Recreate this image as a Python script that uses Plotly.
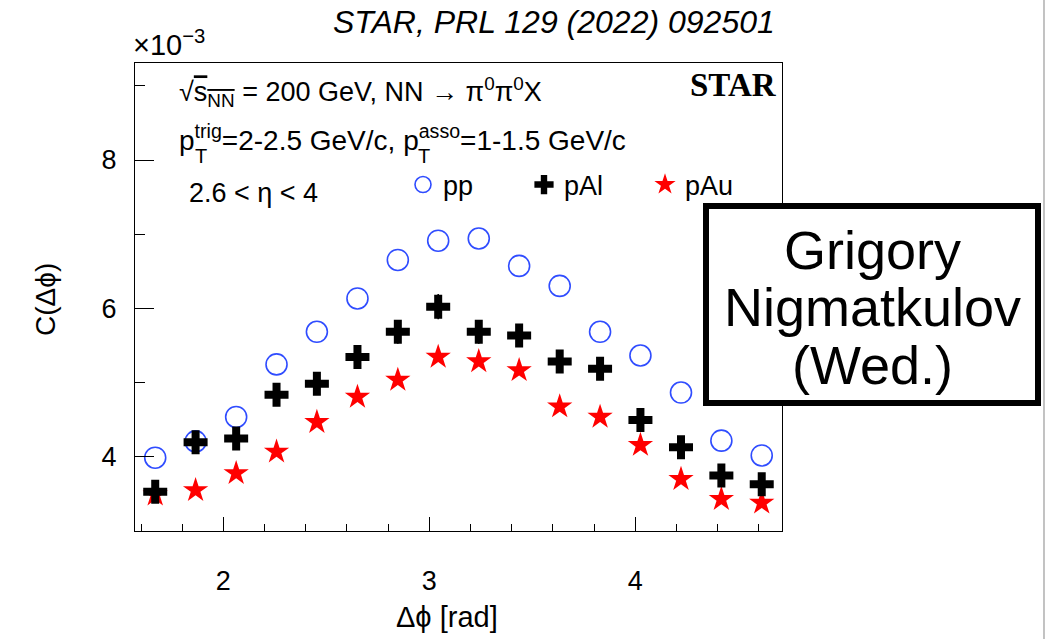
import plotly.graph_objects as go

# ---------------- data (values in units of 1e-3) ----------------
dphi = [1.669, 1.865, 2.062, 2.258, 2.454, 2.651, 2.847, 3.043,
        3.240, 3.436, 3.633, 3.829, 4.025, 4.222, 4.418, 4.614]
c_pp = [3.98, 4.20, 4.53, 5.24, 5.68, 6.13, 6.65, 6.91,
        6.94, 6.57, 6.30, 5.68, 5.36, 4.86, 4.21, 4.01]
c_pal = [3.52, 4.19, 4.24, 4.83, 4.98, 5.34, 5.68, 6.02,
         5.68, 5.63, 5.28, 5.18, 4.49, 4.12, 3.74, 3.62]
c_pau = [3.48, 3.54, 3.77, 4.06, 4.46, 4.80, 5.03, 5.34,
         5.28, 5.16, 4.67, 4.53, 4.15, 3.69, 3.42, 3.37]
err_pal = [0.14, 0.14, 0.14, 0.15, 0.15, 0.15, 0.16, 0.17,
           0.16, 0.15, 0.15, 0.15, 0.14, 0.14, 0.14, 0.14]
series_names = ["pp", "pAl", "pAu"]

# ---------------- geometry ----------------
W, H = 1055, 639
L, R, T, B = 135, 782, 63, 531          # plot-area pixel box
PW, PH = R - L, B - T
FONT = "Liberation Sans, Arial, Helvetica, sans-serif"


def px(x):
    return (x - L) / PW


def py(y):
    return (B - y) / PH


fig = go.Figure()

fig.add_trace(go.Scatter(
    x=dphi, y=c_pp, mode="markers", name=series_names[0], legendrank=1,
    marker=dict(symbol="circle-open", size=21, color="#2f4cff",
                line=dict(width=1.6, color="#2f4cff")),
))
fig.add_trace(go.Scatter(
    x=dphi, y=c_pau, mode="markers", name=series_names[2], legendrank=3,
    marker=dict(symbol="star", size=19, color="#ff0000",
                line=dict(width=0)),
))
fig.add_trace(go.Scatter(
    x=dphi, y=c_pal, mode="markers", name=series_names[1], legendrank=2,
    error_y=dict(type="data", array=err_pal, visible=True, width=0,
                 thickness=1.5, color="black"),
    marker=dict(symbol="cross", size=20, color="black",
                line=dict(width=0)),
))

ann = []


def add_text(text, x, y, size, xanchor="left", yanchor="middle",
             family=FONT, **kw):
    ann.append(dict(text=text, x=px(x), y=py(y), xref="paper", yref="paper",
                    xanchor=xanchor, yanchor=yanchor, showarrow=False,
                    font=dict(size=size, family=family, color="black"), **kw))


# title
add_text("<i>STAR, PRL 129 (2022) 092501</i>", 777, 22, 32, xanchor="right")
# x10^-3
add_text("×10<sup>−3</sup>", 131, 43, 29)
# line 1
add_text("√<span style='text-decoration:overline'>s<sub>NN</sub></span> = 200 GeV, NN → π<sup>0</sup>π<sup>0</sup>X",
         177, 92, 27)
# line 2 (pT with stacked sub/superscripts)
add_text("p<sup>trig</sup>=2-2.5 GeV/c, p<sup>asso</sup>=1-1.5 GeV/c", 177, 138, 28)
add_text("T", 193, 156, 20)
add_text("T", 416, 156, 20)
# line 3
add_text("2.6 < η < 4", 187, 193, 27)
# STAR logo text
add_text("<b>STAR</b>", 779, 85, 33, xanchor="right",
         family="Liberation Serif, Times New Roman, serif")
# axis titles
add_text("Δϕ [rad]", 447, 617, 29, xanchor="center")
add_text("C(Δϕ)", 45, 300, 28, xanchor="center", textangle=-90)
# speaker box text
for txt, yy in [("Grigory", 250), ("Nigmatkulov", 307), ("(Wed.)", 365)]:
    add_text(txt, 872, yy, 54, xanchor="center")

shapes = [
    dict(type="rect", xref="paper", yref="paper",
         x0=px(706), x1=px(1038), y0=py(403), y1=py(206),
         line=dict(color="black", width=6), fillcolor="white", layer="above"),
    dict(type="line", xref="paper", yref="paper",
         x0=px(1044), x1=px(1044), y0=py(640), y1=py(-1),
         line=dict(color="#9a9a9a", width=1.2), layer="above"),
]

fig.update_layout(
    width=W, height=H,
    margin=dict(l=L, r=W - R, t=T, b=H - B, pad=0),
    paper_bgcolor="white", plot_bgcolor="white",
    font=dict(family=FONT, color="black"),
    showlegend=True,
    legend=dict(orientation="h", x=px(403), y=py(185), xanchor="left",
                yanchor="middle", bgcolor="rgba(0,0,0,0)",
                font=dict(size=27, family=FONT, color="black"),
                entrywidthmode="pixels", entrywidth=76,
                traceorder="normal", itemsizing="trace"),
    annotations=ann,
    shapes=shapes,
    xaxis=dict(range=[1.5708, 4.7124], showline=True, mirror=True,
               linecolor="black", linewidth=1, showgrid=False, zeroline=False,
               ticks="inside", ticklen=14, tickwidth=1, tickcolor="black",
               tick0=0, dtick=1, ticklabelstandoff=26,
               tickfont=dict(size=27, family=FONT, color="black"),
               minor=dict(ticks="inside", ticklen=7, dtick=0.2, tick0=0,
                          tickcolor="black", tickwidth=1, showgrid=False)),
    yaxis=dict(range=[2.99, 9.31], showline=True, mirror=True,
               linecolor="black", linewidth=1, showgrid=False, zeroline=False,
               ticks="inside", ticklen=19, tickwidth=1, tickcolor="black",
               tick0=0, dtick=2, ticklabelstandoff=12,
               tickfont=dict(size=27, family=FONT, color="black"),
               minor=dict(ticks="inside", ticklen=10, dtick=1, tick0=0,
                          tickcolor="black", tickwidth=1, showgrid=False)),
)

fig.write_html("out.html")
